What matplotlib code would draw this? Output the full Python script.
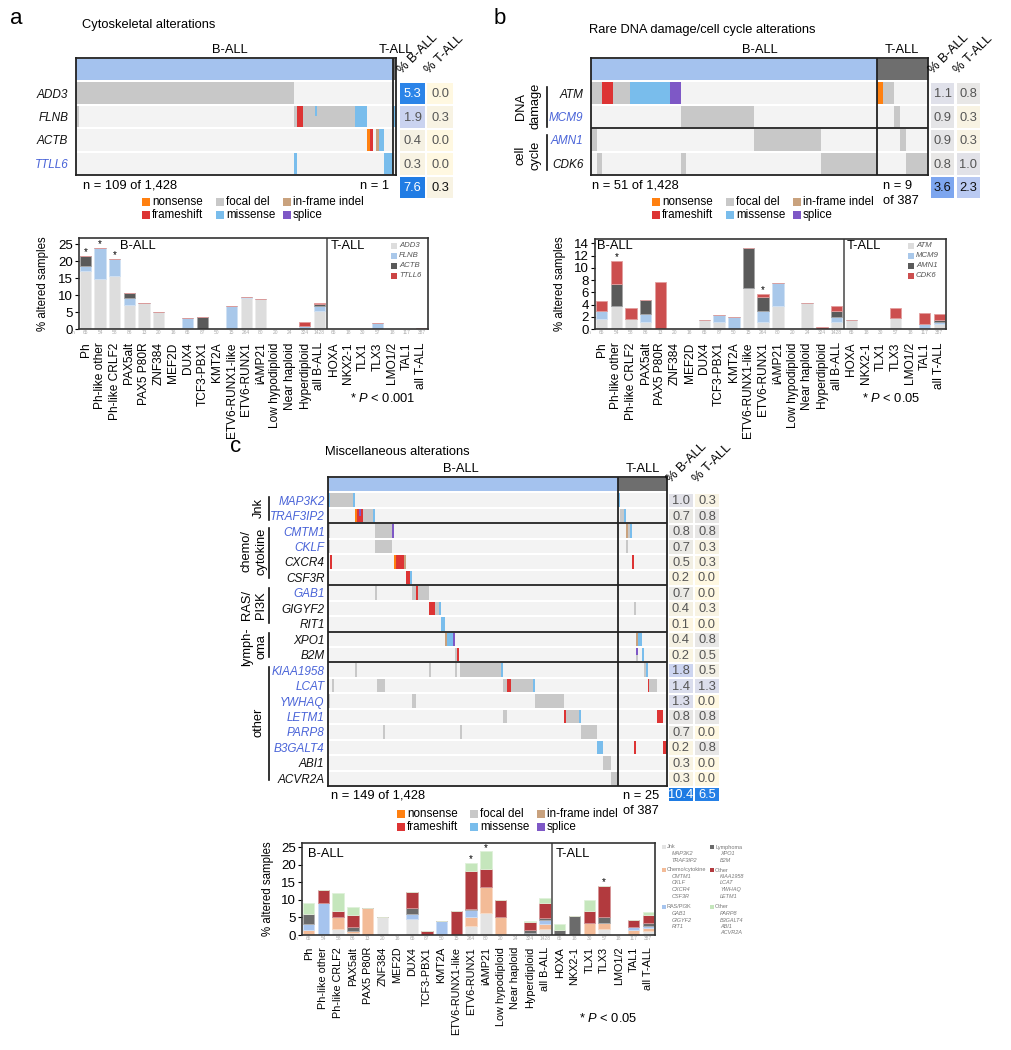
import numpy as np
import matplotlib.pyplot as plt
import matplotlib.colors as mc
from matplotlib.colors import LinearSegmentedColormap, Normalize
from matplotlib.patches import Rectangle
from matplotlib.lines import Line2D

plt.rcParams['font.family'] = ['Liberation Sans', 'DejaVu Sans']
plt.rcParams['mathtext.fontset'] = 'custom'
plt.rcParams['mathtext.rm'] = 'Liberation Sans'
plt.rcParams['mathtext.it'] = 'Liberation Sans:italic'

# ---------------- data ----------------
B_CATS = ['Ph', 'Ph-like other', 'Ph-like CRLF2', 'PAX5alt', 'PAX5 P80R', 'ZNF384', 'MEF2D',
          'DUX4', 'TCF3-PBX1', 'KMT2A', 'ETV6-RUNX1-like', 'ETV6-RUNX1', 'iAMP21',
          'Low hypodiploid', 'Near haploid', 'Hyperdiploid', 'all B-ALL']
T_CATS = ['HOXA', 'NKX2-1', 'TLX1', 'TLX3', 'LMO1/2', 'TAL1', 'all T-ALL']
B_N = [65, 54, 58, 86, 13, 20, 16, 65, 87, 50, 15, 264, 80, 20, 24, 324, 1428]
T_N = [65, 18, 30, 57, 18, 117, 387]

# panel a bars (% altered samples)
A_ADD3 = [17.0, 14.8, 15.5, 7.0, 7.7, 5.0, 0, 0.3, 0, 0, 0, 9.0, 8.7, 0, 0, 0.3, 5.2, 0, 0, 0, 0, 0, 0, 0]
A_FLNB = [1.5, 9.2, 5.2, 2.2, 0, 0, 0, 2.8, 0, 0, 6.7, 0.5, 0, 0, 0, 0.6, 1.7, 0, 0, 0, 1.8, 0, 0, 0.3]
A_ACTB = [3.0, 0, 0, 1.3, 0, 0, 0, 0, 3.4, 0, 0, 0, 0, 0, 0, 0, 0.4, 0, 0, 0, 0, 0, 0, 0]
A_TTLL6 = [0, 0, 0, 0, 0, 0, 0, 0, 0, 0, 0, 0, 0, 0, 0, 1.2, 0.3, 0, 0, 0, 0, 0, 0, 0]
A_STARS = [0, 1, 2]

# panel b bars
B_ATM = [1.6, 3.7, 1.7, 1.2, 0, 0, 0, 1.5, 1.2, 0, 6.7, 1.1, 3.8, 0, 4.2, 0, 1.1, 1.5, 0, 0, 1.8, 0, 0, 0.8]
B_MCM9 = [1.4, 0, 0, 1.2, 0, 0, 0, 0, 1.1, 2.0, 0, 1.8, 3.7, 0, 0, 0, 0.9, 0, 0, 0, 0, 0, 0.8, 0.3]
B_AMN1 = [0, 3.7, 0, 2.3, 0, 0, 0, 0, 0, 0, 6.6, 2.3, 0, 0, 0, 0, 0.9, 0, 0, 0, 0, 0, 0, 0.3]
B_CDK6 = [1.6, 3.7, 1.7, 0, 7.7, 0, 0, 0, 0, 0, 0, 0.5, 0, 0, 0, 0.3, 0.8, 0, 0, 0, 1.7, 0, 1.8, 1.0]
B_STARS = [1, 11]

# panel c bars
C_JNK = [0.3, 0, 1.7, 0.5, 0, 5.0, 0, 4.6, 0, 0, 0, 2.7, 6.2, 0, 0, 0.3, 1.6, 0, 0, 0, 1.8, 0, 0, 1.0]
C_CHEMO = [1.2, 0, 3.4, 0.7, 7.7, 0, 0, 0, 0, 0, 0, 2.5, 7.5, 5.0, 0, 0, 1.4, 0, 0, 3.3, 1.7, 0, 1.4, 1.0]
C_RAS = [1.5, 9.2, 0, 0, 0, 0, 0, 1.5, 0, 4.0, 0, 1.9, 0, 0, 0, 0.4, 1.2, 0, 0, 0, 0, 0, 0.9, 0.5]
C_LYMPH = [3.0, 0, 0, 1.1, 0, 0, 0, 1.6, 0, 0, 0, 0.3, 0, 0, 0, 0.8, 0.5, 1.5, 5.5, 0, 1.7, 0, 0, 0.8]
C_OTHER1 = [0, 3.7, 1.8, 3.5, 0, 0, 0, 4.6, 1.1, 0, 6.7, 10.8, 5.0, 5.0, 0, 2.2, 4.3, 0, 0, 3.4, 8.8, 0, 1.9, 2.5]
C_OTHER2 = [3.2, 0, 5.2, 2.3, 0, 0, 0, 0, 0, 0, 0, 2.4, 5.1, 0, 0, 0.2, 1.4, 1.5, 0, 3.3, 0, 0, 0, 0.7]
C_STARS = [11, 12, 20]

# oncoprint genes and percentages
A_GENES = ['ADD3', 'FLNB', 'ACTB', 'TTLL6']
A_BLUE = ['TTLL6']
A_PCT_B = [5.3, 1.9, 0.4, 0.3]
A_PCT_T = [0.0, 0.3, 0.0, 0.0]
A_TOT = (7.6, 0.3)

B_GENES = ['ATM', 'MCM9', 'AMN1', 'CDK6']
B_BLUE = ['MCM9', 'AMN1']
B_PCT_B = [1.1, 0.9, 0.9, 0.8]
B_PCT_T = [0.8, 0.3, 0.3, 1.0]
B_TOT = (3.6, 2.3)

C_GENES = ['MAP3K2', 'TRAF3IP2', 'CMTM1', 'CKLF', 'CXCR4', 'CSF3R', 'GAB1', 'GIGYF2', 'RIT1', 'XPO1',
           'B2M', 'KIAA1958', 'LCAT', 'YWHAQ', 'LETM1', 'PARP8', 'B3GALT4', 'ABI1', 'ACVR2A']
C_BLUE = ['MAP3K2', 'TRAF3IP2', 'CMTM1', 'CKLF', 'GAB1', 'KIAA1958', 'LCAT', 'YWHAQ', 'LETM1',
          'PARP8', 'B3GALT4']
C_PCT_B = [1.0, 0.7, 0.8, 0.7, 0.5, 0.2, 0.7, 0.4, 0.1, 0.4, 0.2, 1.8, 1.4, 1.3, 0.8, 0.7, 0.2, 0.3, 0.3]
C_PCT_T = [0.3, 0.8, 0.8, 0.3, 0.3, 0.0, 0.0, 0.3, 0.0, 0.8, 0.5, 0.5, 1.3, 0.0, 0.8, 0.0, 0.8, 0.0, 0.0]
C_TOT = (10.4, 6.5)

# alterations per sample column: (first column, number of columns, type)
# N nonsense, F frameshift, D focal del, M missense, I in-frame indel, S splice; lowercase = partial mark
A_EV_B = {'ADD3': [(0, 75, 'D')],
          'FLNB': [(0, 1, 'D'), (75, 1, 'D'), (76, 2, 'F'), (78, 18, 'D'), (82, 1, 'm'), (96, 4, 'M')],
          'ACTB': [(100, 1, 'N'), (101, 1, 'F'), (103, 1, 'I'), (104, 2, 'M')],
          'TTLL6': [(75, 1, 'M'), (106, 3, 'M')]}
A_EV_T = {'FLNB': [(0, 1, 'M')]}

B_EV_B = {'ATM': [(0, 2, 'D'), (2, 2, 'F'), (4, 3, 'D'), (7, 7, 'M'), (14, 2, 'S')],
          'MCM9': [(16, 13, 'D')],
          'AMN1': [(0, 1, 'D'), (29, 12, 'D')],
          'CDK6': [(1, 1, 'D'), (16, 1, 'D'), (41, 10, 'D')]}
B_EV_T = {'ATM': [(0, 1, 'N'), (1, 2, 'D')], 'MCM9': [(3, 1, 'D')],
          'AMN1': [(4, 1, 'D')], 'CDK6': [(5, 4, 'D')]}

C_EV_B = {'MAP3K2': [(0, 1, 'M'), (1, 12, 'D'), (13, 1, 'M')],
          'TRAF3IP2': [(14, 1, 'N'), (15, 3, 'F'), (16, 1, 's'), (18, 5, 'D'), (23, 1, 'M')],
          'CMTM1': [(0, 1, 'D'), (24, 9, 'D'), (33, 1, 'S')],
          'CKLF': [(0, 1, 'D'), (24, 9, 'D')],
          'CXCR4': [(1, 1, 'F'), (34, 1, 'N'), (35, 4, 'F'), (39, 1, 'I')],
          'CSF3R': [(40, 2, 'F'), (42, 1, 'M')],
          'GAB1': [(24, 1, 'D'), (43, 2, 'D'), (45, 1, 'F'), (46, 6, 'D')],
          'GIGYF2': [(52, 3, 'F'), (55, 2, 'D'), (57, 1, 'M')],
          'RIT1': [(58, 2, 'M')],
          'XPO1': [(60, 1, 'I'), (61, 3, 'M'), (64, 1, 'S')],
          'B2M': [(65, 1, 'D'), (66, 1, 'F')],
          'KIAA1958': [(14, 1, 'D'), (52, 1, 'D'), (65, 1, 'D'), (68, 21, 'D'), (89, 1, 'M')],
          'LCAT': [(2, 1, 'D'), (25, 4, 'D'), (90, 2, 'D'), (92, 2, 'F'), (94, 11, 'D'), (105, 1, 'M')],
          'YWHAQ': [(0, 1, 'D'), (43, 2, 'D'), (106, 15, 'D')],
          'LETM1': [(90, 2, 'D'), (121, 1, 'F'), (122, 7, 'D'), (129, 1, 'M')],
          'PARP8': [(28, 1, 'D'), (68, 1, 'D'), (130, 8, 'D')],
          'B3GALT4': [(138, 3, 'M')],
          'ABI1': [(141, 4, 'D')],
          'ACVR2A': [(145, 4, 'D')]}
C_EV_T = {'MAP3K2': [(0, 1, 'M')],
          'TRAF3IP2': [(1, 2, 'D'), (3, 1, 'M')],
          'CMTM1': [(4, 1, 'I'), (5, 1, 'D'), (6, 1, 'M')],
          'CKLF': [(4, 1, 'D')],
          'CXCR4': [(7, 1, 'F')],
          'GIGYF2': [(8, 1, 'D')],
          'XPO1': [(9, 1, 'I'), (10, 2, 'M')],
          'B2M': [(9, 1, 'D'), (9, 1, 's'), (12, 1, 'M')],
          'KIAA1958': [(13, 1, 'D'), (14, 1, 'M')],
          'LCAT': [(15, 1, 'F'), (16, 4, 'D')],
          'LETM1': [(20, 3, 'F')],
          'B3GALT4': [(8, 1, 'F'), (23, 2, 'F')]}

# ---------------- style ----------------
ALT_COLORS = {'N': '#FF8010', 'F': '#DD3434', 'D': '#C8C8C8', 'M': '#79BDEC', 'I': '#C9A27E', 'S': '#7E58C6'}
ALT_NAMES = [('nonsense', 'N'), ('focal del', 'D'), ('in-frame indel', 'I'),
             ('frameshift', 'F'), ('missense', 'M'), ('splice', 'S')]
HDR_B, HDR_T, ROW_BG = '#A4C2EE', '#6E6E6E', '#F3F3F3'
GENE_BLUE = '#4A64D8'
CMAP = LinearSegmentedColormap.from_list('pct', [
    (0.0, '#FFF8E1'), (0.5 / 8, '#F2EFE4'), (0.9 / 8, '#E4E4E7'), (1.5 / 8, '#D8DBEF'),
    (2.3 / 8, '#BACAF2'), (3.6 / 8, '#7DA6EF'), (5.3 / 8, '#2B84E8'), (1.0, '#1E7BE3')])
NORM = Normalize(0, 8)
FS = 9.3

W, H = 1012, 1050
fig = plt.figure(figsize=(W / 100, H / 100), dpi=100)


def add_ax(x0, y0, x1, y1):
    return fig.add_axes([x0 / W, 1 - y1 / H, (x1 - x0) / W, (y1 - y0) / H])


def ftext(x, y, s, **kw):
    kw.setdefault('fontsize', FS)
    kw.setdefault('va', 'center')
    fig.text(x / W, 1 - y / H, s, **kw)


def fsquare(x, y, size, color):
    fig.add_artist(Rectangle((x / W, 1 - (y + size / 2) / H), size / W, size / H,
                             transform=fig.transFigure, color=color, lw=0))


def fline(x, y0, y1):
    fig.add_artist(Line2D([x / W, x / W], [1 - y0 / H, 1 - y1 / H], color='#111111', lw=1.2))


def oncoprint(box, genes, blue, ev_b, ev_t, n_b, n_t, seps, pad):
    x0, y0, x1, y1 = box
    ax = add_ax(x0, y0, x1, y1)
    nrow = len(genes) + 1
    h = 1 - 2.0 / ((y1 - y0) / nrow)
    ax.set_xlim(0, n_b + n_t)
    ax.set_ylim(nrow, 0)
    ax.barh(0.5, n_b, left=0, height=h, color=HDR_B, lw=0)
    ax.barh(0.5, n_t, left=n_b, height=h, color=HDR_T, lw=0)
    for i, g in enumerate(genes):
        y = i + 1.5
        ax.barh(y, n_b + n_t, left=0, height=h, color=ROW_BG, lw=0)
        for off, ev in ((0, ev_b), (n_b, ev_t)):
            for start, n, kind in ev.get(g, []):
                c = ALT_COLORS[kind.upper()]
                if kind.islower():
                    ax.barh(y - h / 4, n, left=off + start, height=h / 2, color=c, lw=0)
                else:
                    ax.barh(y, n, left=off + start, height=h, color=c, lw=0)
    ax.axvline(n_b, color='#222222', lw=1.3)
    for s in seps:
        ax.axhline(s + 1, color='#222222', lw=1.3)
    for sp in ax.spines.values():
        sp.set_linewidth(1.3)
        sp.set_color('#222222')
    ax.set_xticks([])
    ax.set_yticks(np.arange(len(genes)) + 1.5)
    ax.set_yticklabels(genes, fontstyle='italic', fontsize=8.5)
    for lbl, g in zip(ax.get_yticklabels(), genes):
        lbl.set_color(GENE_BLUE if g in blue else '#111111')
    ax.tick_params(axis='y', length=0, pad=pad)
    return ax


def pct_table(box, pb, pt, tot, hdr_y):
    x0, y0, x1, y1 = box
    ax = add_ax(x0, y0, x1, y1)
    cols = [list(pb) + [tot[0]], list(pt) + [tot[1]]]
    nrow = len(cols[0])
    hy = 1 - 2.0 / ((y1 - y0) / nrow)
    hx = 1 - 2.0 / ((x1 - x0) / 2)
    ax.set_xlim(0, 2)
    ax.set_ylim(nrow, 0)
    for j, col in enumerate(cols):
        ax.bar(np.full(nrow, j + 0.5), np.full(nrow, hy), bottom=np.arange(nrow) + (1 - hy) / 2,
               width=hx, color=[CMAP(NORM(v)) for v in col], lw=0)
        for i, v in enumerate(col):
            last = i == nrow - 1
            color = 'white' if v >= 5 else ('#111111' if last else '#555555')
            ax.text(j + 0.5, i + 0.53, f'{v:.1f}', ha='center', va='center', fontsize=FS, color=color)
    ax.axis('off')
    cw = (x1 - x0) / 2
    for j, lab in enumerate(['% B-ALL', '% T-ALL']):
        ftext(x0 + j * cw + 5, hdr_y, lab, rotation=45, ha='left', va='bottom', rotation_mode='anchor')


def alt_legend(xs, ys):
    for k, (name, code) in enumerate(ALT_NAMES):
        x = xs[k % 3]
        y = ys[k // 3]
        fsquare(x, y, 8, ALT_COLORS[code])
        ftext(x + 10, y, name, fontsize=8.4)


def lighten(c, f=0.45):
    r, g, b = mc.to_rgb(c)
    return (r + (1 - r) * f, g + (1 - g) * f, b + (1 - b) * f)


def stacked(box, series, colors, ymax, yticks, stars, ylabel_x, xfs=8.6, xpad=9.5):
    x0, y0, x1, y1 = box
    ax = add_ax(x0, y0, x1, y1)
    cats = B_CATS + T_CATS
    counts = B_N + T_N
    x = np.arange(len(cats))
    data = np.array(series, dtype=float)
    show = data.sum(axis=0) > 0
    bottom = np.zeros(len(cats))
    for vals, c in zip(data, colors):
        ax.bar(x[show], vals[show], bottom=bottom[show], width=0.78, color=c,
               edgecolor=lighten(c), linewidth=0.6)
        bottom += vals
    for i in stars:
        ax.annotate('*', (i, bottom[i]), xytext=(0, 0.5), textcoords='offset points',
                    ha='center', va='baseline', fontsize=7)
    ax.axvline(len(B_CATS) - 0.5, color='#555555', lw=1.2)
    ax.set_xlim(-0.45, len(cats) - 0.55)
    ax.set_ylim(0, ymax)
    ax.set_yticks(yticks)
    ax.set_xticks(x)
    ax.set_xticklabels(cats, rotation=90, fontsize=xfs)
    ax.tick_params(axis='x', length=0, pad=xpad)
    ax.tick_params(axis='y', length=3, width=0.8, labelsize=9.5, pad=1.5)
    for sp in ax.spines.values():
        sp.set_linewidth(1.2)
        sp.set_color('#333333')
    tr = ax.get_xaxis_transform()
    dy = -4.0 / (y1 - y0)
    ax.text(-0.85, dy, 'n', transform=tr, fontsize=3.5, color='#aaaaaa', ha='center', va='center')
    for i, n in enumerate(counts):
        ax.text(i, dy, str(n), transform=tr, fontsize=3.5, color='#aaaaaa', ha='center', va='center')
    ftext(ylabel_x, (y0 + y1) / 2, '% altered samples', rotation=90, ha='center', fontsize=8.3)
    return ax


def bar_legend(x, ys, names, colors):
    for y, n, c in zip(ys, names, colors):
        fsquare(x, y, 6, c)
        ftext(x + 8, y, n, fontsize=5.6, style='italic', color='#555555')


# ---------------- panel a ----------------
ftext(10, 18, 'a', fontsize=16)
ftext(82, 25, 'Cytoskeletal alterations')
ftext(230, 50, 'B-ALL', ha='center')
ftext(396, 50, 'T-ALL', ha='center')
oncoprint((76, 58, 396, 175), A_GENES, A_BLUE, A_EV_B, A_EV_T, 109, 1, [], 5.5)
pct_table((399, 82, 454, 199), A_PCT_B, A_PCT_T, A_TOT, 76)
ftext(83, 186, 'n = 109 of 1,428')
ftext(389, 186, 'n = 1', ha='right')
alt_legend([142, 216, 283], [202, 215])

A_COLORS = ['#DDDDDD', '#A9C8EA', '#5A5A5A', '#CC4444']
stacked((79, 238, 428, 329), [A_ADD3, A_FLNB, A_ACTB, A_TTLL6], A_COLORS, 26.8, [0, 5, 10, 15, 20, 25],
        A_STARS, 43)
ftext(120, 246, 'B-ALL')
ftext(331, 246, 'T-ALL')
bar_legend(391, [245.5, 255.5, 265.5, 275.5], A_GENES, A_COLORS)
ftext(350, 399, '* $P$ < 0.001')

# ---------------- panel b ----------------
ftext(494, 18, 'b', fontsize=16)
ftext(589, 30, 'Rare DNA damage/cell cycle alterations')
ftext(760, 50, 'B-ALL', ha='center')
ftext(902, 50, 'T-ALL', ha='center')
oncoprint((591, 58, 928, 175), B_GENES, B_BLUE, B_EV_B, B_EV_T, 51, 9, [2], 5.5)
pct_table((930, 82, 981, 199), B_PCT_B, B_PCT_T, B_TOT, 76)
ftext(592, 186, 'n = 51 of 1,428')
ftext(883, 186, 'n = 9')
ftext(883, 201, 'of 387')
alt_legend([652, 726, 793], [202, 215])
ftext(528, 106, 'DNA\ndamage', rotation=90, ha='center', multialignment='center', linespacing=1.3)
ftext(528, 155, 'cell\ncycle', rotation=90, ha='center', multialignment='center', linespacing=1.3)
fline(547, 87, 127)
fline(547, 135, 170)

B_COLORS = ['#DDDDDD', '#A9C8EA', '#5A5A5A', '#CC4F4F']
stacked((595, 239, 946, 329), [B_ATM, B_MCM9, B_AMN1, B_CDK6], B_COLORS, 14.7, [0, 2, 4, 6, 8, 10, 12, 14],
        B_STARS, 560)
ftext(597, 246, 'B-ALL')
ftext(847, 246, 'T-ALL')
bar_legend(908, [245.5, 255.5, 265.5, 275.5], B_GENES, B_COLORS)
ftext(862, 399, '* $P$ < 0.05')

# ---------------- panel c ----------------
ftext(230, 447, 'c', fontsize=16)
ftext(325, 452, 'Miscellaneous alterations')
ftext(461, 469, 'B-ALL', ha='center')
ftext(643, 469, 'T-ALL', ha='center')
oncoprint((328, 477, 667, 786), C_GENES, C_BLUE, C_EV_B, C_EV_T, 149, 25, [2, 6, 9, 11], 2.5)
pct_table((668, 493, 720, 802), C_PCT_B, C_PCT_T, C_TOT, 485)
ftext(331, 796, 'n = 149 of 1,428')
ftext(623, 796, 'n = 25')
ftext(623, 811, 'of 387')
alt_legend([397, 470, 537], [814, 827])
for label, yc, y0, y1 in [('Jnk', 508, 497, 520), ('chemo/\ncytokine', 551, 528, 578),
                          ('RAS/\nPI3K', 605, 588, 623), ('lymph-\noma', 647, 633, 657),
                          ('other', 722, 667, 780)]:
    ftext(254 if '\n' in label else 259, yc, label, rotation=90, ha='center', multialignment='center',
          linespacing=1.3)
    fline(269, y0, y1)

C_COLORS = ['#E3E3E3', '#F3BB97', '#A6C4EE', '#6B6B6B', '#B23A3E', '#C5E6BC']
stacked((302, 843, 655, 935), [C_JNK, C_CHEMO, C_RAS, C_LYMPH, C_OTHER1, C_OTHER2], C_COLORS, 26.2,
        [0, 5, 10, 15, 20, 25], C_STARS, 268, xfs=7.8, xpad=8.5)
ftext(308, 854, 'B-ALL')
ftext(556, 854, 'T-ALL')
ftext(579, 1018, '* $P$ < 0.05')

C_LEG = [('Jnk', ['MAP3K2', 'TRAF3IP2']), ('Chemo/cytokine', ['CMTM1', 'CKLF', 'CXCR4', 'CSF3R']),
         ('RAS/PI3K', ['GAB1', 'GIGYF2', 'RIT1']), ('Lymphoma', ['XPO1', 'B2M']),
         ('Other', ['KIAA1958', 'LCAT', 'YWHAQ', 'LETM1']), ('Other', ['PARP8', 'B3GALT4', 'ABI1', 'ACVR2A'])]
for k, (grp, members) in enumerate(C_LEG):
    x = 662 if k < 3 else 710
    y = [847, 870, 907][k % 3]
    fsquare(x, y, 4, C_COLORS[k])
    ftext(x + 5, y, grp, fontsize=4, color='#777777')
    for m, gene in enumerate(members):
        ftext(x + 10, y + 6.5 * (m + 1), gene, fontsize=4, style='italic', color='#777777')

fig.savefig('out.png', dpi=100)
